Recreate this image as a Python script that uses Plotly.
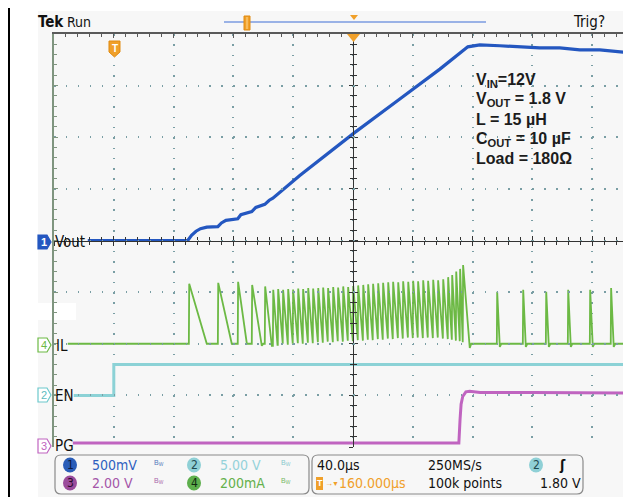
import plotly.graph_objects as go

# ---------------- geometry (screen pixels of the 631x497 window) ----------------
W, H = 631, 497
OFF = 8                                      # page margin of the html body
PL, PR, PT, PB = 54, 631, 34, 447          # graticule plot area on screen
def px(X): return (X - PL) / (PR - PL)
def py(Y): return (PB - Y) / (PB - PT)

# time axis (µs, trigger at 0), 40 µs/div, 59.8 px/div
T_MIN = -40.0
T_MAX = T_MIN + (PR - PL) * 40.0 / 59.8

# ---------------- data ----------------
# CH1 Vout (V), 500 mV/div
vout_t = [-17.4, 49.5, 52.0, 55.0, 58.0, 62.2, 69.6, 72.0, 75.0, 78.9, 82.9, 85.0, 89.0,
          92.3, 95.0, 99.0, 101.0, 104.0, 106.4, 124.4, 160.6, 191.3, 218.1, 236.8,
          244.8, 258.2, 271.6, 284.9, 298.3, 311.7, 325.1, 338.5, 345.9]
vout_v = [0.0, 0.0, 0.05, 0.09, 0.115, 0.13, 0.135, 0.17, 0.195, 0.205, 0.21, 0.25, 0.27,
          0.28, 0.32, 0.34, 0.35, 0.39, 0.41, 0.63, 1.04, 1.37, 1.66, 1.876,
          1.895, 1.886, 1.876, 1.866, 1.866, 1.847, 1.847, 1.828, 1.818]

# CH2 EN (V), 5 V/div
en_t = [-26.8, 0.0, 0.0, 345.9]
en_v = [0.0, 0.0, 3.0, 3.0]

# CH3 PG (V), 2 V/div
pg_t = [-27.4, 230.8, 231.6, 232.3, 233.4, 235.5, 238.0, 245.0, 280.0, 320.0, 345.9]
pg_v = [0.0, 0.0, 0.9, 1.5, 1.8, 1.98, 2.0, 1.96, 1.96, 1.94, 1.93]

# CH4 IL (A), 200 mA/div : switching pulses (rise time, peak, end of fall, level at end of fall)
il_start = -30.8
il_rise = [50.2, 69.6, 82.9, 92.3, 101.0,
           106.4, 109.7, 113.0, 116.4, 119.7, 123.1, 126.4, 129.8, 133.1, 136.5,
           139.8, 143.1, 146.5, 149.8, 153.2, 156.5, 159.9, 163.2, 166.6, 169.9,
           173.2, 176.6, 179.9, 183.3, 186.6, 190.0, 193.3, 196.7, 200.0, 203.3,
           206.7, 210.0, 213.4, 216.7, 220.1, 223.4, 226.1, 228.8, 231.4, 233.4,
           256.2, 273.6, 289.0, 303.7, 318.4, 332.4, 345.2]
il_peak = [0.232, 0.236, 0.240, 0.228, 0.222,
           0.209, 0.212, 0.209, 0.212, 0.210, 0.214, 0.212, 0.216, 0.214, 0.216,
           0.218, 0.216, 0.220, 0.218, 0.222, 0.220, 0.224, 0.226, 0.228, 0.230,
           0.232, 0.234, 0.236, 0.238, 0.240, 0.238, 0.242, 0.240, 0.244, 0.242,
           0.246, 0.244, 0.248, 0.246, 0.250, 0.258, 0.266, 0.280, 0.290, 0.305,
           0.201, 0.209, 0.201, 0.209, 0.209, 0.216, 0.201]
il_fall = [62.2, 78.9, 89.0, 99.0, 105.7,
           109.5, 112.8, 116.2, 119.5, 122.9, 126.2, 129.6, 132.9, 136.3, 139.6,
           142.9, 146.3, 149.6, 153.0, 156.3, 159.7, 163.0, 166.4, 169.7, 173.0,
           176.4, 179.7, 183.1, 186.4, 189.8, 193.1, 196.5, 199.8, 203.1, 206.5,
           209.8, 213.2, 216.5, 219.9, 223.2, 225.9, 228.6, 231.2, 233.2, 238.1,
           258.2, 275.6, 291.0, 305.7, 320.4, 334.4, 347.2]
il_valley = [0.0, 0.0, 0.0, -0.008, -0.008,
             -0.004, 0.0, -0.004, 0.0, 0.002, 0.0, 0.004, 0.002, 0.006, 0.004,
             0.008, 0.006, 0.010, 0.008, 0.012, 0.010, 0.014, 0.012, 0.016, 0.014,
             0.018, 0.016, 0.020, 0.018, 0.022, 0.020, 0.024, 0.022, 0.024, 0.022,
             0.024, 0.022, 0.024, 0.020, 0.018, 0.016, 0.012, 0.010, 0.006, -0.016,
             -0.012, -0.012, -0.012, -0.012, -0.012, -0.012, -0.012]

# channel settings (volts or amps per division, ground level in divisions from bottom)
ch_scale = {"vout": 0.5, "en": 5.0, "pg": 2.0, "il": 0.2}
ch_ground = {"vout": 4.0, "en": 1.0, "pg": 0.078, "il": 2.0}

# readout texts
readout_row1 = ["500mV", "5.00 V"]
readout_row2 = ["2.00 V", "200mA"]
timebase = ["40.0µs", "250MS/s", "1.80 V", "100k points", "160.000µs"]
notes = ["<b>V<sub>IN</sub>=12V</b>", "<b>V<sub>OUT</sub> = 1.8 V</b>", "<b>L = 15 µH</b>",
         "<b>C<sub>OUT</sub> = 10 µF</b>", "<b>Load = 180Ω</b>"]

# ---------------- colours / fonts ----------------
C_BLUE = "#2457c0"
C_CYAN = "#8cd2d6"
C_MAG = "#c064c0"
C_GRN = "#6cb944"
C_ORG = "#f0a02a"
BG = "#f7f7f7"
GRID = "#7a9ea4"
FN = "DejaVu Sans Condensed, Liberation Sans Narrow, sans-serif"
FB = "Liberation Sans, Arial, sans-serif"

# build IL polyline from pulse list
il_x, il_y = [il_start], [0.0]
level = 0.0
for i, (tr, pk, tf, vl) in enumerate(zip(il_rise, il_peak, il_fall, il_valley)):
    il_x += [tr, tr + 0.25, tf]
    il_y += [level, pk, vl]
    level = vl
    nxt = il_rise[i + 1] if i + 1 < len(il_rise) else T_MAX + 5
    if nxt - tf > 1.5:
        il_x.append(tf + 1.0)
        il_y.append(0.0)
        level = 0.0
il_x.append(T_MAX + 5)
il_y.append(level)


def yrange(ch):
    s, g = ch_scale[ch], ch_ground[ch]
    return [-g * s, (8 - g) * s]


fig = go.Figure()
for xs, ys, ax, col, wd in [(en_t, en_v, "y3", C_CYAN, 3), (pg_t, pg_v, "y4", C_MAG, 3),
                            (il_x, il_y, "y5", C_GRN, 1.8), (vout_t, vout_v, "y2", C_BLUE, 3.2)]:
    fig.add_trace(go.Scatter(x=xs, y=ys, yaxis=ax, mode="lines",
                             line=dict(color=col, width=wd), hoverinfo="skip", showlegend=False))

# dummy traces so the graticule centre-line axes are drawn
for xa, ya in [("x", "y6"), ("x", "y7"), ("x2", "y"), ("x3", "y")]:
    fig.add_trace(go.Scatter(x=[0], y=[0], xaxis=xa, yaxis=ya, mode="markers",
                             marker=dict(opacity=0), hoverinfo="skip", showlegend=False))

hidden = dict(visible=False, overlaying="y", fixedrange=True)
cx = (160 - T_MIN) / (T_MAX - T_MIN)
tick_common = dict(showticklabels=False, showgrid=False, zeroline=False, fixedrange=True,
                   showline=True, linecolor="#333333", linewidth=1.2, tickcolor="#333333",
                   ticklen=4, tickwidth=1)

fig.update_layout(
    width=W - OFF, height=H - OFF,
    margin=dict(l=PL - OFF, r=W - PR, t=PT - OFF, b=H - PB),
    paper_bgcolor="white", plot_bgcolor="rgba(0,0,0,0)",
    xaxis=dict(range=[T_MIN, T_MAX], side="top", showline=True, linecolor="#5a5a5a",
               linewidth=1.5, ticks="inside", ticklen=4, tickcolor="#5a5a5a", tick0=T_MIN,
               dtick=40, minor=dict(dtick=8, ticks="inside", ticklen=3, tickcolor="#5a5a5a"),
               showgrid=True, gridcolor=GRID, gridwidth=1.5, griddash="1.5px,8.82px",
               showticklabels=False, zeroline=False, fixedrange=True),
    yaxis=dict(range=[0, 8], tick0=0, dtick=1, showline=True, linecolor="#7f957f",
               linewidth=1.5, ticks="inside", ticklen=4, tickcolor="#7f957f",
               minor=dict(dtick=0.2, ticks="inside", ticklen=3, tickcolor="#7f957f"),
               showgrid=True, gridcolor=GRID, gridwidth=1.5, griddash="1.5px,10.46px",
               showticklabels=False, zeroline=False, fixedrange=True),
    yaxis2=dict(range=yrange("vout"), **hidden),
    yaxis3=dict(range=yrange("en"), **hidden),
    yaxis4=dict(range=yrange("pg"), **hidden),
    yaxis5=dict(range=yrange("il"), **hidden),
    yaxis6=dict(range=[0, 8], overlaying="y", anchor="free", position=cx, ticks="outside",
                dtick=1, minor=dict(dtick=0.2, ticks="outside", ticklen=3, tickcolor="#333333"),
                **tick_common),
    yaxis7=dict(range=[0, 8], overlaying="y", anchor="free", position=cx, ticks="inside",
                dtick=1, minor=dict(dtick=0.2, ticks="inside", ticklen=3, tickcolor="#333333"),
                **tick_common),
    xaxis2=dict(range=[T_MIN, T_MAX], overlaying="x", anchor="free", position=0.5,
                ticks="outside", tick0=T_MIN, dtick=40,
                minor=dict(dtick=8, ticks="outside", ticklen=3, tickcolor="#333333"), **tick_common),
    xaxis3=dict(range=[T_MIN, T_MAX], overlaying="x", anchor="free", position=0.5,
                ticks="inside", tick0=T_MIN, dtick=40,
                minor=dict(dtick=8, ticks="inside", ticklen=3, tickcolor="#333333"), **tick_common),
)


def P(points, close=True):
    s = "M " + " L ".join(f"{px(x):.5f},{py(y):.5f}" for x, y in points)
    return s + (" Z" if close else "")


def rrect(x0, y0, x1, y1, r):
    c = lambda x, y: f"{px(x):.5f},{py(y):.5f}"
    return (f"M {c(x0 + r, y0)} L {c(x1 - r, y0)} Q {c(x1, y0)} {c(x1, y0 + r)} "
            f"L {c(x1, y1 - r)} Q {c(x1, y1)} {c(x1 - r, y1)} L {c(x0 + r, y1)} "
            f"Q {c(x0, y1)} {c(x0, y1 - r)} L {c(x0, y0 + r)} Q {c(x0, y0)} {c(x0 + r, y0)} Z")


shapes = []
# screen background and white patch
shapes.append(dict(type="rect", xref="paper", yref="paper", x0=px(38), x1=px(W + 2), y0=py(H + 2),
                   y1=py(11), fillcolor=BG, line=dict(width=0), layer="below"))
shapes.append(dict(type="rect", xref="paper", yref="paper", x0=px(38), x1=px(76), y0=py(320),
                   y1=py(303), fillcolor="white", line=dict(width=0), layer="below"))
# page frame
shapes.append(dict(type="path", xref="paper", yref="paper", path=P([(9, H + 2), (9, 4.5), (W + 2, 4.5)], False),
                   line=dict(color="black", width=2)))
# record bar + markers in the top strip
shapes.append(dict(type="line", xref="paper", yref="paper", x0=px(224), x1=px(486), y0=py(22), y1=py(22),
                   line=dict(color="#7b9be0", width=1.5)))
shapes.append(dict(type="rect", xref="paper", yref="paper", x0=px(244), x1=px(250), y0=py(30), y1=py(16),
                   fillcolor=C_ORG, line=dict(color="#e08a10", width=1)))
shapes.append(dict(type="line", xref="paper", yref="paper", x0=px(247), x1=px(247), y0=py(29), y1=py(17),
                   line=dict(color="#ffd890", width=1)))
shapes.append(dict(type="path", xref="paper", yref="paper", path=P([(350, 15), (358, 15), (354, 20)]),
                   fillcolor=C_ORG, line=dict(width=0)))
shapes.append(dict(type="path", xref="paper", yref="paper", path=P([(347, 34), (360, 34), (353.5, 42)]),
                   fillcolor=C_ORG, line=dict(width=0)))
# trigger position marker "T"
shapes.append(dict(type="path", xref="paper", yref="paper",
                   path=P([(109, 41), (120, 41), (120, 52), (114.5, 57), (109, 52)]),
                   fillcolor=C_ORG, line=dict(color="#e08a10", width=1)))
# channel ground markers
for yc, col, filled in [(242, C_BLUE, True), (345, C_GRN, False), (395, "#6cc8cc", False), (446, C_MAG, False)]:
    shapes.append(dict(type="path", xref="paper", yref="paper",
                       path=P([(38, yc - 7), (47, yc - 7), (51, yc), (47, yc + 7), (38, yc + 7)]),
                       fillcolor=col if filled else "white", line=dict(color=col, width=1.2)))
# readout boxes
shapes.append(dict(type="path", xref="paper", yref="paper", path=rrect(55, 455, 309, 494, 6),
                   fillcolor=BG, line=dict(color="#8a8a8a", width=1.2)))
shapes.append(dict(type="path", xref="paper", yref="paper", path=rrect(312, 455, 583, 494, 6),
                   fillcolor=BG, line=dict(color="#8a8a8a", width=1.2)))
circles = [(70, 465, "#2a5db8"), (194, 465, "#8fd0d6"), (70, 483, "#9b4c9c"),
           (194, 483, "#5daf4c"), (536, 465, "#8fd0d6")]
for cxp, cyp, col in circles:
    shapes.append(dict(type="circle", xref="paper", yref="paper", x0=px(cxp - 7), x1=px(cxp + 7),
                       y0=py(cyp + 7.5), y1=py(cyp - 7.5), fillcolor=col, line=dict(width=0)))
shapes.append(dict(type="path", xref="paper", yref="paper",
                   path=P([(316, 477), (323, 477), (323, 490), (316, 490)]),
                   fillcolor=C_ORG, line=dict(width=0)))
fig.update_layout(shapes=shapes)

ann = []


def A(X, Y, text, size=14, color="#111111", family=FN, xanchor="left"):
    ann.append(dict(x=px(X), y=py(Y), xref="paper", yref="paper", text=text, showarrow=False,
                    xanchor=xanchor, yanchor="middle", borderpad=0,
                    font=dict(size=size, color=color, family=family)))


A(37, 22, "<b>Tek</b>", 15)
A(66, 22, "Run", 14)
A(572, 22, "Trig?", 15)
A(114.5, 48, "<b>T</b>", 10, "white", FB, "center")
# channel labels
A(44, 242, "<b>1</b>", 11, "white", FB, "center")
A(44, 345, "4", 11, C_GRN, FB, "center")
A(44, 395, "2", 11, "#5cbcc0", FB, "center")
A(44, 446, "3", 11, C_MAG, FB, "center")
A(54, 242, "Vout", 15)
A(55, 346, "IL", 15)
A(54, 396, "EN", 15)
A(54, 446, "PG", 15)
# annotation block
for i, t in enumerate(notes):
    A(475, 80 + i * 19.7, t, 16, "#1c1c1c", FB)
# readout
for (cxp, cyp, _), d, dc in zip(circles, ["1", "2", "3", "4", "2"],
                                ["#0d1a40", "#1f4a50", "#2a0a2a", "#102a10", "#1f4a50"]):
    A(cxp, cyp, d, 12, dc, FN, "center")
A(91, 465, readout_row1[0], 14, "#2e5fc0")
A(219, 465, readout_row1[1], 14, "#94d2da")
A(91, 483, readout_row2[0], 14, "#a454a8")
A(219, 483, readout_row2[1], 14, "#64b04a")
for X, Y, col in [(153, 463, "#5577bb"), (280, 463, "#88c8cc"), (153, 481, "#aa66aa"), (280, 481, "#77b866")]:
    A(X, Y, "B<sub>W</sub>", 7, col, FB)
A(316, 465, timebase[0], 14)
A(427, 465, timebase[1], 14)
A(558, 465, "<b>ʃ</b>", 14)
A(319.5, 483.5, "<b>T</b>", 9, "white", FB, "center")
A(323.5, 483, "→", 8, C_ORG, FB)
A(331, 483, "▼", 7, C_ORG, FB)
A(338, 483, timebase[4], 14, C_ORG)
A(427, 483, timebase[3], 14)
A(539, 483, timebase[2], 14)
fig.update_layout(annotations=ann)

fig.write_html("out.html")
